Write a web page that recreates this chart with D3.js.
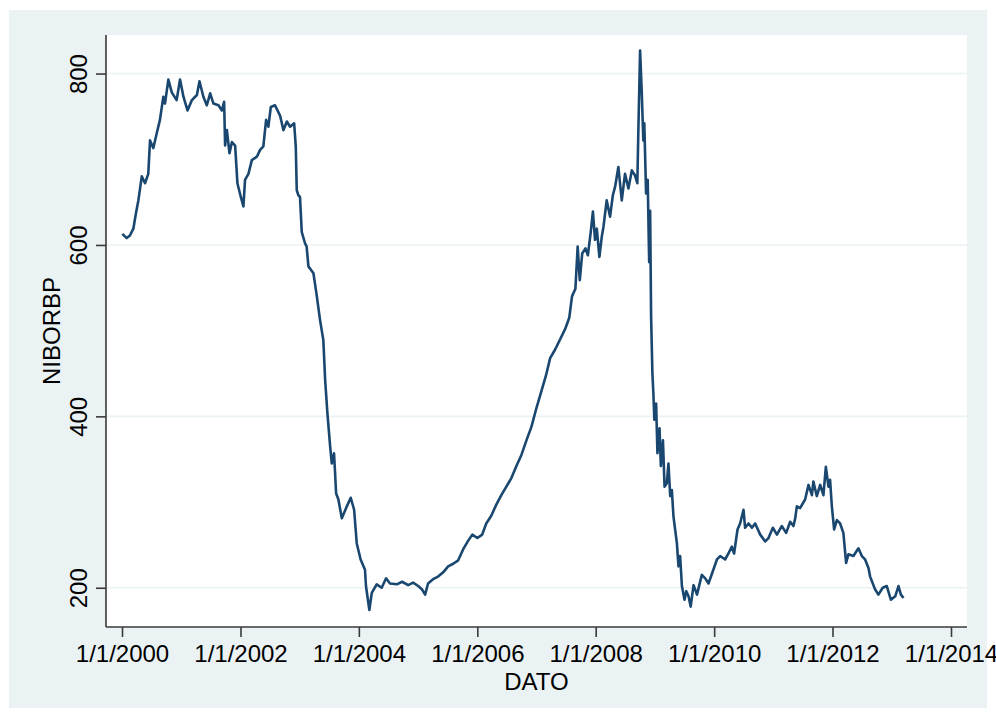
<!DOCTYPE html>
<html>
<head>
<meta charset="utf-8">
<script src="https://cdn.jsdelivr.net/npm/d3@7"></script>
<style>
  html, body { margin: 0; padding: 0; background: #ffffff; }
  svg { display: block; }
  text { font-family: "Liberation Sans", Arial, Helvetica, sans-serif; fill: #000; }
</style>
</head>
<body>
<svg id="chart" width="996" height="717"></svg>
<script>
// NIBOR basis points, observation dates and values
const dates = [
  "2000-01-03","2000-01-30","2000-02-19","2000-03-11","2000-03-27","2000-04-11","2000-05-02","2000-05-22",
  "2000-06-11","2000-06-22","2000-07-12","2000-08-02","2000-08-22","2000-09-12","2000-09-22","2000-10-13",
  "2000-11-03","2000-12-03","2000-12-24","2001-01-14","2001-02-08","2001-03-07","2001-04-07","2001-04-23",
  "2001-05-17","2001-06-07","2001-06-28","2001-07-18","2001-08-18","2001-09-08","2001-09-22","2001-09-28",
  "2001-10-09","2001-10-25","2001-11-09","2001-11-29","2001-12-13","2002-01-03","2002-01-19","2002-01-29",
  "2002-02-19","2002-03-12","2002-04-12","2002-05-02","2002-05-22","2002-06-08","2002-06-22","2002-07-07",
  "2002-08-02","2002-09-02","2002-09-23","2002-10-14","2002-11-03","2002-11-28","2002-12-08","2002-12-14",
  "2002-12-24","2003-01-03","2003-01-14","2003-02-03","2003-02-13","2003-02-24","2003-03-27","2003-04-17",
  "2003-05-07","2003-05-27","2003-06-07","2003-06-21","2003-07-08","2003-07-18","2003-08-01","2003-08-14",
  "2003-08-28","2003-09-18","2003-10-19","2003-11-12","2003-12-03","2003-12-19","2004-01-12","2004-02-08",
  "2004-02-14","2004-03-06","2004-03-21","2004-04-20","2004-05-21","2004-06-17","2004-07-11","2004-08-22",
  "2004-09-24","2004-10-31","2004-12-01","2005-01-01","2005-01-25","2005-02-13","2005-03-03","2005-04-03",
  "2005-05-04","2005-06-04","2005-07-05","2005-08-05","2005-09-05","2005-10-06","2005-11-06","2005-12-01",
  "2006-01-01","2006-01-31","2006-02-25","2006-03-28","2006-04-28","2006-05-29","2006-06-29","2006-07-30",
  "2006-08-30","2006-09-30","2006-10-31","2006-12-01","2007-01-01","2007-01-29","2007-03-01","2007-03-26",
  "2007-04-26","2007-05-27","2007-06-27","2007-07-22","2007-08-08","2007-08-29","2007-09-12","2007-09-25",
  "2007-10-10","2007-10-30","2007-11-14","2007-12-01","2007-12-15","2007-12-28","2008-01-08","2008-01-24",
  "2008-02-08","2008-02-18","2008-03-09","2008-03-30","2008-04-16","2008-04-30","2008-05-20","2008-06-10",
  "2008-06-30","2008-07-21","2008-08-11","2008-08-31","2008-09-14","2008-09-20","2008-10-01","2008-10-11",
  "2008-10-21","2008-10-27","2008-11-07","2008-11-17","2008-11-26","2008-12-02","2008-12-08","2008-12-16",
  "2008-12-22","2008-12-28","2009-01-08","2009-01-16","2009-01-29","2009-02-06","2009-02-19","2009-03-01",
  "2009-03-15","2009-03-25","2009-04-05","2009-04-15","2009-04-25","2009-05-16","2009-05-26","2009-06-05",
  "2009-06-16","2009-07-02","2009-07-13","2009-07-27","2009-08-09","2009-08-27","2009-09-17","2009-10-17",
  "2009-11-07","2009-11-27","2009-12-27","2010-01-18","2010-02-07","2010-03-10","2010-03-30","2010-04-20",
  "2010-05-04","2010-05-25","2010-06-10","2010-07-01","2010-07-11","2010-08-01","2010-08-22","2010-09-11",
  "2010-10-12","2010-11-12","2010-12-02","2010-12-29","2011-01-23","2011-02-22","2011-03-21","2011-04-15",
  "2011-05-05","2011-05-16","2011-05-26","2011-06-15","2011-07-16","2011-08-06","2011-08-27","2011-09-05",
  "2011-09-26","2011-10-17","2011-11-06","2011-11-21","2011-12-07","2011-12-17","2011-12-28","2012-01-11",
  "2012-01-28","2012-02-17","2012-03-08","2012-03-25","2012-04-08","2012-05-09","2012-06-09","2012-06-30",
  "2012-07-20","2012-08-10","2012-08-20","2012-09-20","2012-10-10","2012-11-06","2012-12-01","2012-12-26",
  "2013-01-22","2013-02-11","2013-02-26","2013-03-14"
];

const niborbp = [
  613, 608, 611, 619, 637, 652, 680, 672,
  683, 722, 713, 730, 746, 773, 765, 793,
  778, 769, 793, 773, 757, 769, 775, 791,
  773, 763, 777, 765, 763, 757, 767, 716,
  734, 707, 720, 716, 672, 656, 645, 676,
  683, 699, 703, 711, 715, 746, 738, 761,
  763, 751, 734, 744, 738, 742, 715, 664,
  658, 656, 615, 602, 598, 575, 567, 540,
  512, 489, 443, 404, 365, 345, 357, 310,
  303, 281, 295, 305, 291, 252, 233, 221,
  202, 174, 194, 204, 200, 211, 205, 204,
  207, 203, 206, 202, 198, 192, 205, 210,
  213, 218, 225, 228, 232, 245, 255, 262,
  258, 262, 275, 284, 297, 308, 318, 328,
  342, 355, 372, 388, 410, 428, 448, 468,
  478, 490, 502, 515, 540, 549, 598, 559,
  590, 596, 588, 614, 639, 606, 619, 586,
  610, 621, 652, 633, 658, 668, 691, 652,
  683, 666, 687, 681, 672, 730, 827, 780,
  722, 742, 660, 676, 580, 640, 516, 450,
  427, 396, 415, 357, 386, 342, 372, 318,
  322, 345, 307, 314, 283, 252, 225, 237,
  202, 186, 196, 190, 178, 203, 192, 215,
  211, 205, 221, 233, 237, 233, 240, 248,
  240, 268, 275, 291, 270, 275, 270, 275,
  262, 254, 258, 270, 262, 272, 264, 277,
  272, 281, 295, 293, 303, 320, 308, 324,
  307, 320, 308, 341, 318, 326, 295, 268,
  279, 275, 264, 229, 239, 237, 246, 237,
  233, 223, 213, 198, 192, 200, 202, 186,
  190, 202, 192, 188
];

const yTicks = [200, 400, 600, 800];
const xTickYears = [2000, 2002, 2004, 2006, 2008, 2010, 2012, 2014];
const xTitle = "DATO";
const yTitle = "NIBORBP";

const parse = d3.timeParse("%Y-%m-%d");
const series = dates.map((d, i) => ({ date: parse(d), value: niborbp[i] }));

const svg = d3.select("#chart");

// graph background and plot region
const outer = { x0: 9, y0: 10, x1: 987, y1: 708 };
const plot = { left: 106, right: 967, top: 35, bottom: 627 };

svg.append("rect")
  .attr("x", outer.x0).attr("y", outer.y0)
  .attr("width", outer.x1 - outer.x0).attr("height", outer.y1 - outer.y0)
  .attr("fill", "#eaf2f3");

svg.append("rect")
  .attr("x", plot.left).attr("y", plot.top)
  .attr("width", plot.right - plot.left).attr("height", plot.bottom - plot.top)
  .attr("fill", "#ffffff");

const x = d3.scaleTime()
  .domain([new Date(2000, 0, 1), new Date(2014, 0, 1)])
  .range([122, 951]);

const y = d3.scaleLinear()
  .domain([154.2, 845])
  .range([plot.bottom, plot.top]);

// horizontal grid lines
svg.append("g")
  .selectAll("line")
  .data(yTicks)
  .join("line")
  .attr("x1", plot.left).attr("x2", plot.right)
  .attr("y1", d => y(d)).attr("y2", d => y(d))
  .attr("stroke", "#eaf2f3")
  .attr("stroke-width", 1.6);

// data line
const line = d3.line()
  .x(d => x(d.date))
  .y(d => y(d.value));

svg.append("path")
  .datum(series)
  .attr("fill", "none")
  .attr("stroke", "#1a476f")
  .attr("stroke-width", 2.6)
  .attr("stroke-linejoin", "round")
  .attr("d", line);

// y axis
const yAxis = d3.axisLeft(y)
  .tickValues(yTicks)
  .tickSize(10)
  .tickPadding(0)
  .tickFormat(d3.format("d"));

const gy = svg.append("g")
  .attr("transform", `translate(${plot.left},0)`)
  .call(yAxis);
gy.select(".domain")
  .attr("d", `M0,${plot.top}V${plot.bottom}`)
  .attr("stroke", "#3a3a3a").attr("stroke-width", 1.6);
gy.selectAll(".tick line").attr("stroke", "#3a3a3a").attr("stroke-width", 1.6);
gy.selectAll(".tick text")
  .attr("font-size", 24)
  .attr("font-family", "Liberation Sans, Arial, sans-serif")
  .attr("fill", "#000")
  .attr("text-anchor", "middle")
  .attr("x", null).attr("dy", null)
  .attr("transform", "translate(-19,0) rotate(-90)")
  .attr("y", 0);

// x axis
const xAxis = d3.axisBottom(x)
  .tickValues(xTickYears.map(yr => new Date(yr, 0, 1)))
  .tickSize(10)
  .tickPadding(0)
  .tickFormat(d => `1/1/${d.getFullYear()}`);

const gx = svg.append("g")
  .attr("transform", `translate(0,${plot.bottom})`)
  .call(xAxis);
gx.select(".domain")
  .attr("d", `M${plot.left},0H${plot.right}`)
  .attr("stroke", "#3a3a3a").attr("stroke-width", 1.6);
gx.selectAll(".tick line").attr("stroke", "#3a3a3a").attr("stroke-width", 1.6);
gx.selectAll(".tick text")
  .attr("font-size", 24)
  .attr("font-family", "Liberation Sans, Arial, sans-serif")
  .attr("fill", "#000")
  .attr("dy", null)
  .attr("y", 35);

// axis titles
svg.append("text")
  .attr("x", (plot.left + plot.right) / 2)
  .attr("y", 690)
  .attr("text-anchor", "middle")
  .attr("font-size", 24)
  .text(xTitle);

svg.append("text")
  .attr("transform", `translate(60,${(plot.top + plot.bottom) / 2}) rotate(-90)`)
  .attr("text-anchor", "middle")
  .attr("font-size", 24)
  .text(yTitle);
</script>
</body>
</html>
